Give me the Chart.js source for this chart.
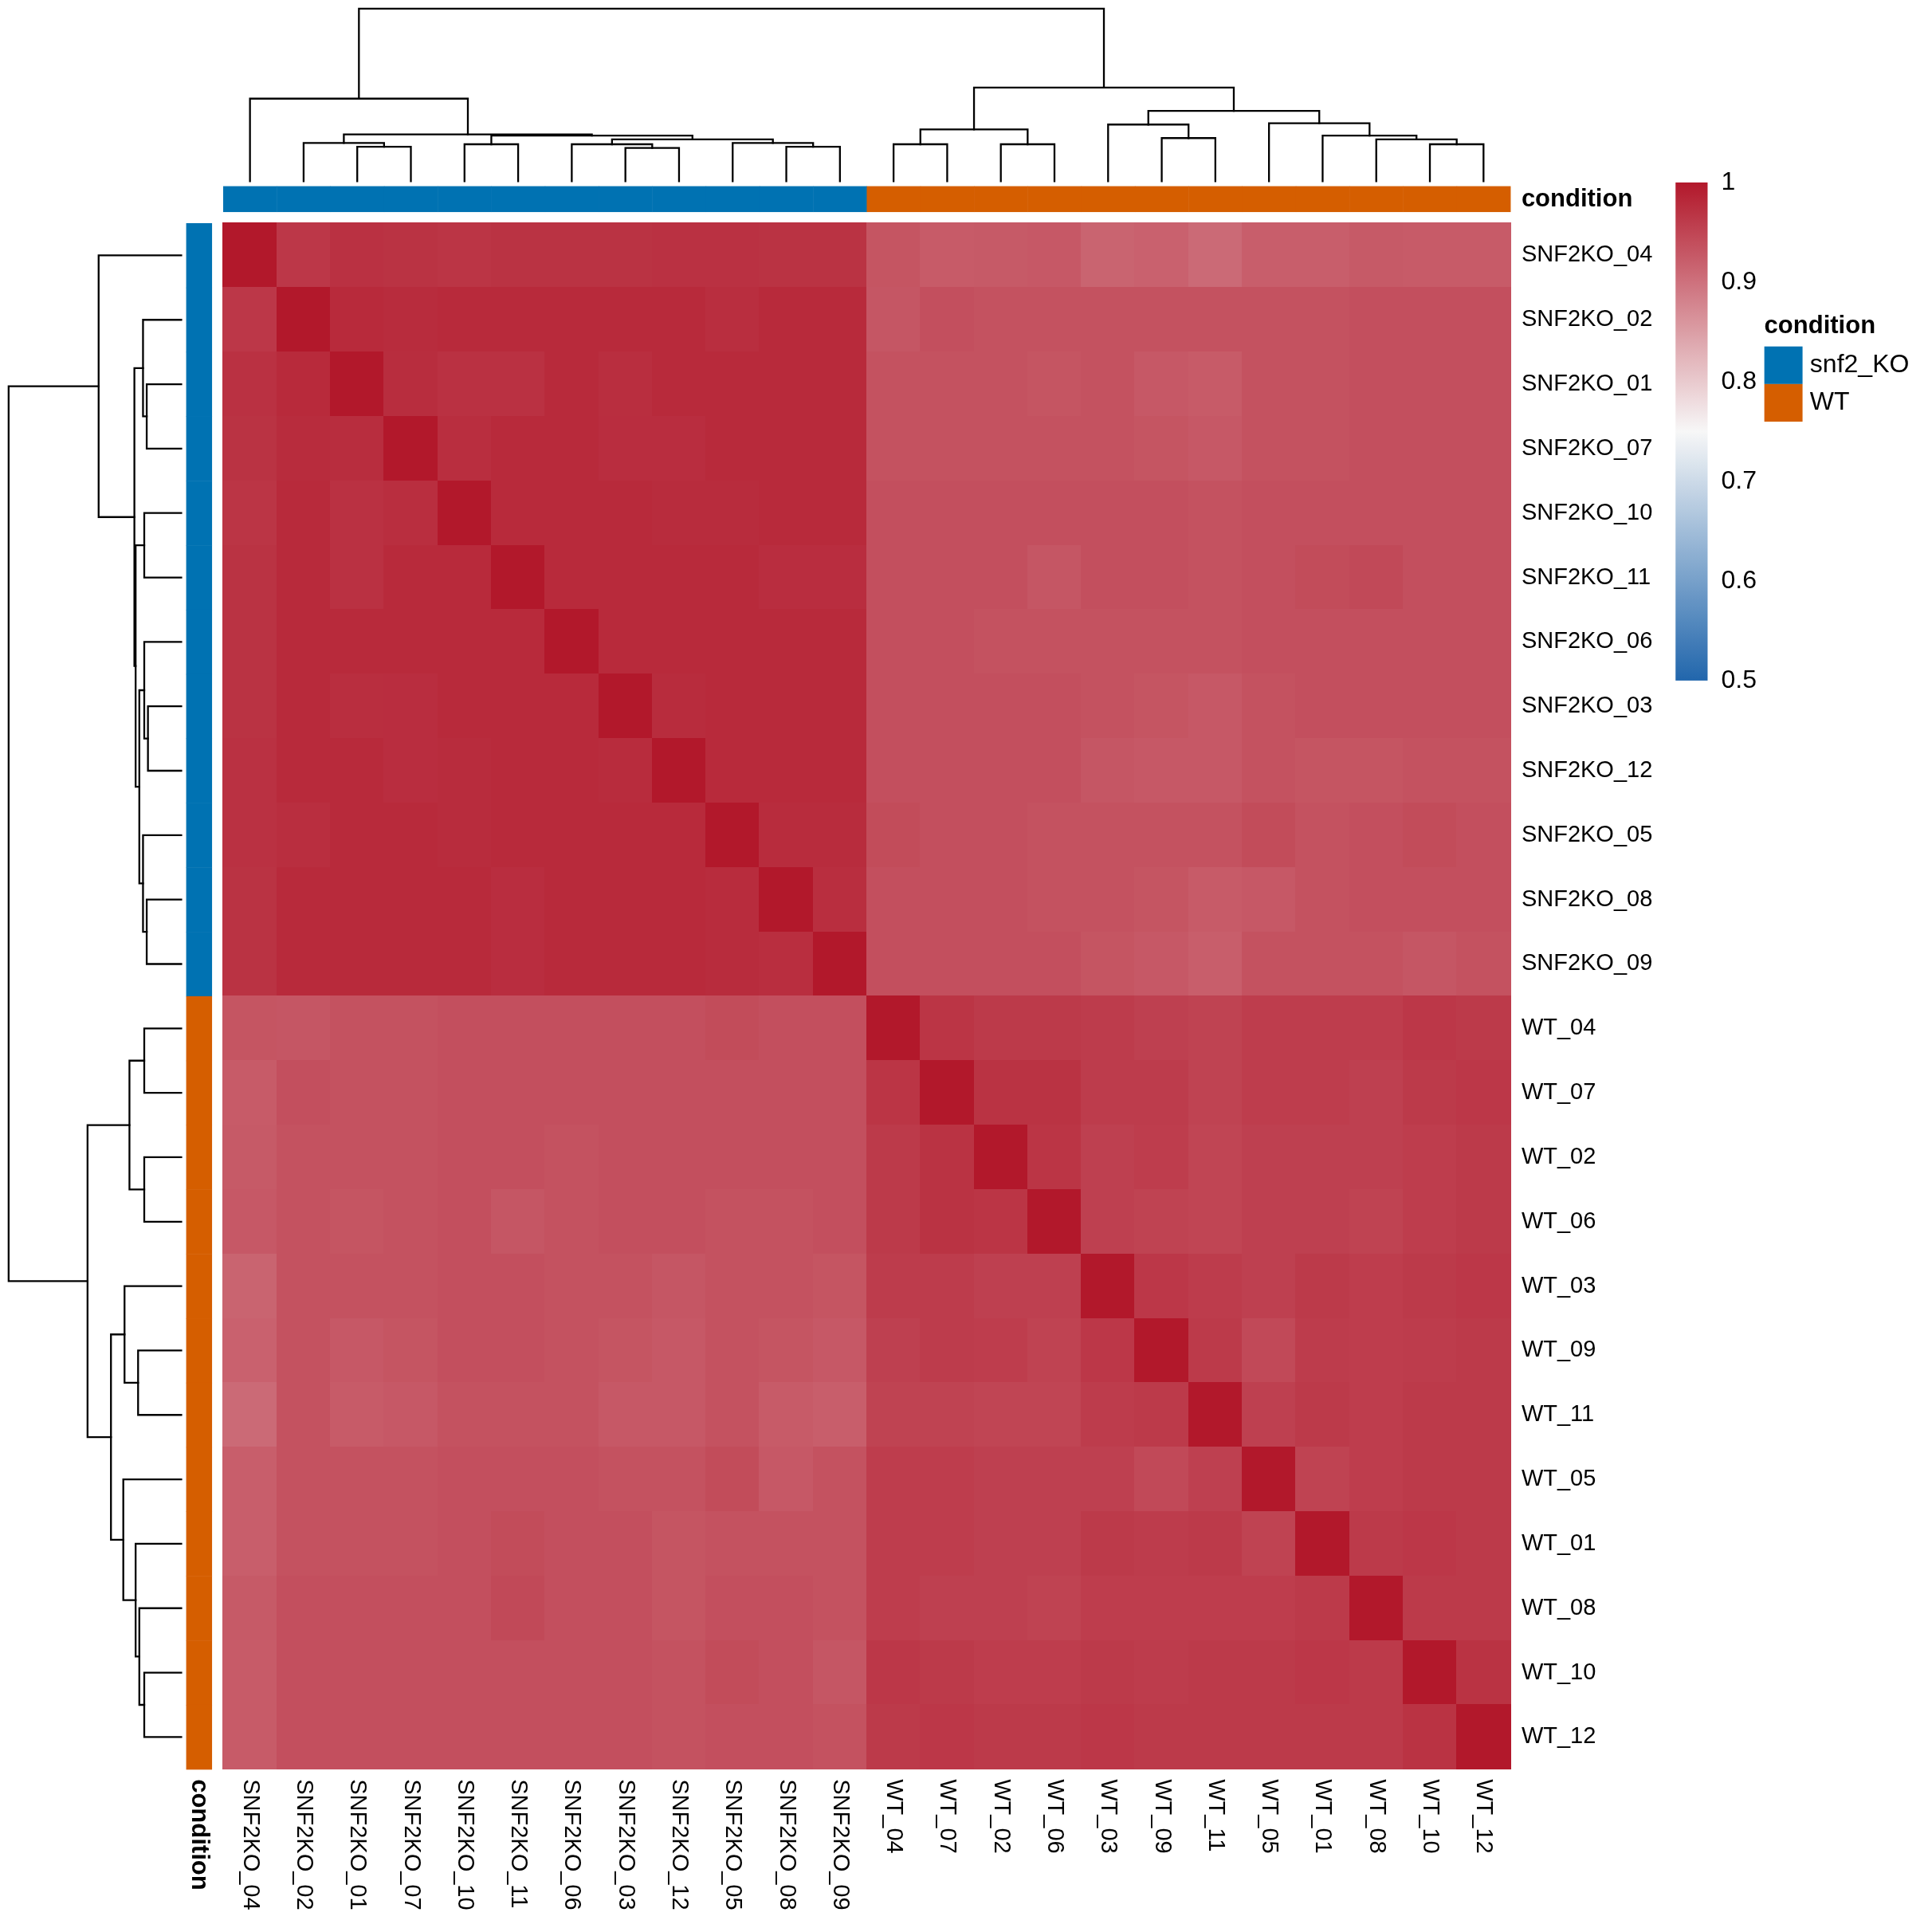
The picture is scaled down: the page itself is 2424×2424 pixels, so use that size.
<!DOCTYPE html>
<html><head><meta charset="utf-8">
<script src="https://cdn.jsdelivr.net/npm/chart.js@4"></script>
<style>html,body{margin:0;padding:0;background:#fff}</style>
</head><body>
<canvas id="c" width="2424" height="2424" style="width:2424px;height:2424px"></canvas>
<script>
const samples = ["SNF2KO_04","SNF2KO_02","SNF2KO_01","SNF2KO_07","SNF2KO_10","SNF2KO_11","SNF2KO_06","SNF2KO_03","SNF2KO_12","SNF2KO_05","SNF2KO_08","SNF2KO_09",
 "WT_04","WT_07","WT_02","WT_06","WT_03","WT_09","WT_11","WT_05","WT_01","WT_08","WT_10","WT_12"];
const conditions = ["snf2_KO","snf2_KO","snf2_KO","snf2_KO","snf2_KO","snf2_KO","snf2_KO","snf2_KO","snf2_KO","snf2_KO","snf2_KO","snf2_KO",
 "WT","WT","WT","WT","WT","WT","WT","WT","WT","WT","WT","WT"];
const conditionLevels = ["snf2_KO","WT"];
const conditionColors = ["#0072B2","#D55E00"];
// KO-KO lower triangle
const koKo = [
 [],
 [.965],
 [.972,.980],
 [.970,.978,.977],
 [.968,.980,.972,.975],
 [.970,.980,.972,.980,.980],
 [.970,.980,.980,.980,.980,.980],
 [.970,.980,.975,.976,.980,.980,.980],
 [.972,.980,.980,.976,.978,.980,.980,.978],
 [.972,.975,.980,.980,.978,.980,.980,.980,.980],
 [.970,.980,.980,.980,.980,.976,.980,.980,.980,.978],
 [.970,.980,.980,.980,.980,.976,.980,.980,.980,.978,.975]
];
// KO rows x WT columns
const koWt = [
 [.932,.925,.926,.928,.915,.918,.908,.922,.922,.926,.925,.925],
 [.930,.938,.935,.935,.935,.935,.935,.935,.935,.938,.938,.938],
 [.935,.935,.935,.932,.935,.928,.925,.935,.935,.938,.938,.938],
 [.935,.935,.935,.935,.935,.932,.928,.935,.935,.938,.938,.938],
 [.938,.938,.938,.938,.938,.938,.935,.938,.938,.938,.938,.938],
 [.938,.938,.938,.930,.938,.938,.935,.938,.942,.945,.938,.938],
 [.938,.938,.935,.935,.935,.935,.935,.938,.938,.938,.938,.938],
 [.938,.938,.938,.938,.935,.932,.928,.935,.938,.938,.938,.938],
 [.938,.938,.938,.938,.930,.928,.928,.935,.932,.932,.935,.935],
 [.942,.938,.938,.935,.935,.935,.935,.942,.935,.938,.942,.938],
 [.938,.938,.938,.935,.935,.932,.925,.928,.935,.938,.938,.938],
 [.938,.938,.938,.938,.932,.928,.922,.935,.935,.935,.930,.935]
];
// WT-WT lower triangle
const wtWt = [
 [],
 [.968],
 [.962,.970],
 [.962,.970,.968],
 [.960,.960,.955,.955],
 [.955,.960,.958,.952,.965],
 [.952,.952,.950,.950,.960,.962],
 [.958,.958,.955,.955,.955,.945,.955],
 [.958,.958,.955,.955,.962,.960,.962,.952],
 [.958,.955,.955,.952,.958,.958,.958,.958,.962],
 [.965,.962,.958,.958,.962,.960,.962,.962,.965,.962],
 [.962,.965,.962,.962,.965,.962,.962,.962,.962,.962,.970]
];
// dendrogram merges: [childA, childB, height]; leaves 0..23, node k => 24+k
const merges = [
 [2,3,28],[1,24,31],[4,5,30],[7,8,27],[6,27,30],[10,11,28],[9,29,31],[28,30,34],[26,31,37],[25,32,38],[0,33,67],
 [12,13,30],[14,15,30],[35,36,42],[17,18,35],[16,38,46],[22,23,30],[21,40,34],[20,41,37],[19,42,47],[39,43,57],[37,44,76],[34,45,140]
];
const legendTicks = [0.5,0.6,0.7,0.8,0.9,1];

const N = samples.length;
function corr(i,j){
  if(i===j) return 1;
  if(i<j){const t=i;i=j;j=t;}
  if(i<12) return koKo[i][j];
  if(j<12) return koWt[j][i-12];
  return wtWt[i-12][j-12];
}
const cells=[];
for(let i=0;i<N;i++)for(let j=0;j<N;j++)cells.push({x:j+0.5,y:i+0.5,v:corr(i,j)});

function colorFor(v){
  const lo=[33,102,172], mid=[247,247,247], hi=[178,24,43];
  let a,b,t;
  if(v>=0.75){a=mid;b=hi;t=(v-0.75)/0.25;}else{a=lo;b=mid;t=(v-0.5)/0.25;}
  t=Math.max(0,Math.min(1,t));
  return `rgb(${Math.round(a[0]+(b[0]-a[0])*t)},${Math.round(a[1]+(b[1]-a[1])*t)},${Math.round(a[2]+(b[2]-a[2])*t)})`;
}
const S=2424/1567;
const FONT='"Liberation Sans", Arial, sans-serif';

const plugin={
 id:'heat',
 afterDatasetsDraw(chart){
  const ctx=chart.ctx, xs=chart.scales.x, ys=chart.scales.y;
  const meta=chart.getDatasetMeta(0);
  const cw=xs.getPixelForValue(1)-xs.getPixelForValue(0);
  const ch=ys.getPixelForValue(1)-ys.getPixelForValue(0);
  ctx.save();
  meta.data.forEach((el,k)=>{
    const d=cells[k];
    ctx.fillStyle=colorFor(d.v);
    ctx.fillRect(Math.floor(el.x-cw/2),Math.floor(el.y-ch/2),Math.ceil(cw)+1,Math.ceil(ch)+1);
  });
  // annotation bars
  for(let i=0;i<N;i++){
    ctx.fillStyle=conditionColors[conditionLevels.indexOf(conditions[i])];
    const x0=xs.getPixelForValue(i), x1=xs.getPixelForValue(i+1);
    ctx.fillRect(x0,151*S,x1-x0+0.5,21*S);
    const y0=ys.getPixelForValue(i), y1=ys.getPixelForValue(i+1);
    ctx.fillRect(151*S,y0,21*S,y1-y0+0.5);
  }
  // dendrograms
  const pos={}, hts={};
  for(let i=0;i<N;i++){pos[i]=i+0.5;hts[i]=0;}
  ctx.strokeStyle='#000'; ctx.lineWidth=2.3; ctx.lineCap='square';
  const base=147*S;
  merges.forEach((m,k)=>{
    const [a,b,h]=m, id=N+k;
    pos[id]=(pos[a]+pos[b])/2; hts[id]=h;
    const xa=xs.getPixelForValue(pos[a]), xb=xs.getPixelForValue(pos[b]);
    const ya=base-hts[a]*S, yb=base-hts[b]*S, yh=base-h*S;
    ctx.beginPath();ctx.moveTo(xa,ya);ctx.lineTo(xa,yh);ctx.lineTo(xb,yh);ctx.lineTo(xb,yb);ctx.stroke();
    const pa=ys.getPixelForValue(pos[a]), pb=ys.getPixelForValue(pos[b]);
    ctx.beginPath();ctx.moveTo(ya,pa);ctx.lineTo(yh,pa);ctx.lineTo(yh,pb);ctx.lineTo(yb,pb);ctx.stroke();
  });
  // labels
  ctx.fillStyle='#000';
  ctx.font=`29px ${FONT}`;
  ctx.textBaseline='middle'; ctx.textAlign='left';
  for(let i=0;i<N;i++) ctx.fillText(samples[i],1234*S,ys.getPixelForValue(i+0.5));
  for(let i=0;i<N;i++){
    ctx.save();ctx.translate(xs.getPixelForValue(i+0.5),1443*S);ctx.rotate(Math.PI/2);
    ctx.fillText(samples[i],0,0);ctx.restore();
  }
  ctx.font=`bold 31px ${FONT}`;
  ctx.fillText('condition',1234*S,162*S);
  ctx.save();ctx.translate(161.5*S,1443*S);ctx.rotate(Math.PI/2);ctx.fillText('condition',0,0);ctx.restore();
  // colorbar
  const cbx=1359*S, cbw=26*S, cbt=148*S, cbb=552*S;
  const g=ctx.createLinearGradient(0,cbb,0,cbt);
  for(let k=0;k<=50;k++){const v=0.5+k*0.01;g.addColorStop(k/50,colorFor(v));}
  ctx.fillStyle=g; ctx.fillRect(cbx,cbt,cbw,cbb-cbt);
  ctx.fillStyle='#000'; ctx.font=`32px ${FONT}`;
  legendTicks.forEach(v=>{
    const y=cbb-(v-0.5)/0.5*(cbb-cbt);
    ctx.fillText(String(v),1396*S,y);
  });
  ctx.font=`bold 31px ${FONT}`;
  ctx.fillText('condition',1431*S,265*S);
  ctx.font=`32px ${FONT}`;
  conditionLevels.forEach((c,k)=>{
    ctx.fillStyle=conditionColors[k];
    ctx.fillRect(1431*S,(281+k*30.5)*S,31*S,30.5*S);
    ctx.fillStyle='#000';
    ctx.fillText(c,1468*S,(296+k*30.5)*S);
  });
  ctx.restore();
 }
};

new Chart(document.getElementById('c'),{
 type:'scatter',
 data:{datasets:[{data:cells,pointRadius:0,pointHoverRadius:0}]},
 options:{
  responsive:false, animation:false, devicePixelRatio:1,
  layout:{padding:{left:181*S,top:181*S,right:2424-1225*S,bottom:2424-1435*S}},
  plugins:{legend:{display:false},tooltip:{enabled:false}},
  scales:{
   x:{type:'linear',min:0,max:N,display:false},
   y:{type:'linear',min:0,max:N,reverse:true,display:false}
  }
 },
 plugins:[plugin]
});
</script>
</body></html>
